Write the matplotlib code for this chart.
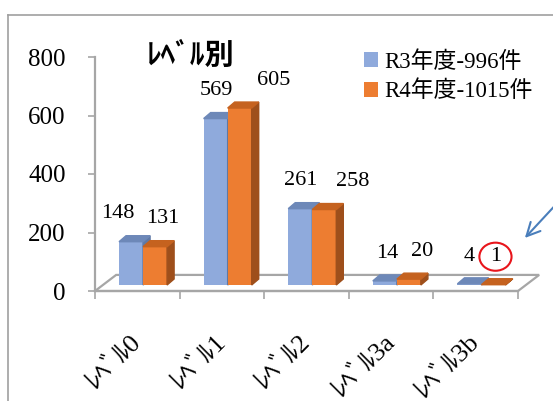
import matplotlib.pyplot as plt
from matplotlib.patches import Polygon, Ellipse
from matplotlib.lines import Line2D
from matplotlib.transforms import ScaledTranslation
import numpy as np

plt.rcParams['font.family'] = ['Liberation Serif', 'Noto Sans CJK JP']

# data
categories = ['ﾚﾍﾞﾙ0', 'ﾚﾍﾞﾙ1', 'ﾚﾍﾞﾙ2', 'ﾚﾍﾞﾙ3a', 'ﾚﾍﾞﾙ3b']
r3 = [148, 569, 261, 14, 4]
r4 = [131, 605, 258, 20, 1]
series_names = ['R3年度-996件', 'R4年度-1015件']
yticks = [0, 200, 400, 600, 800]
title = 'ﾚﾍﾞﾙ別'

W, H = 553, 401
fig = plt.figure(figsize=(W / 100, H / 100), dpi=100)
ax = fig.add_axes([95 / W, (H - 291) / H, 423 / W, 234 / H])
ax.set_xlim(0, 5)
ax.set_ylim(0, 800)
ax.patch.set_alpha(0)

grey = '#A6A6A6'
# pseudo 3d settings (data units)
base = 20.5          # bars sit a bit back on the floor
bw = 0.284           # bar width
dx, dy = 0.083, 20.5  # bar depth
fdx, fdy = 0.25, 55  # floor depth

# floor outline
floor = Polygon([(0, 0), (5, 0), (5 + fdx, fdy), (fdx, fdy)], closed=True,
                fill=False, edgecolor=grey, lw=1.6, clip_on=False, zorder=1)
ax.add_patch(floor)

colors = [('#8FAADC', '#6D88B8', '#5F79A6'), ('#ED7D31', '#C5621F', '#9E4F1B')]
nudges = [[-13, 1, 0, 2, 0], [8, 34, 28, 13, 2]]  # label x shifts (px)
handles = []
x = np.arange(len(categories))
for s, vals in enumerate([r3, r4]):
    front, top, side = colors[s]
    left = x + bw + s * bw
    bars = ax.bar(left, vals, width=bw, bottom=base, align='edge', color=front,
                  zorder=3 + s, clip_on=False, label=series_names[s])
    handles.append(bars)
    for xl, v, nd in zip(left, vals, nudges[s]):
        t = base + v
        ax.add_patch(Polygon([(xl + bw, base), (xl + bw + dx, base + dy),
                              (xl + bw + dx, t + dy), (xl + bw, t)],
                             color=side, zorder=3 + s, clip_on=False))
        ax.add_patch(Polygon([(xl, t), (xl + bw, t), (xl + bw + dx, t + dy),
                              (xl + dx, t + dy)],
                             color=top, zorder=3 + s, clip_on=False))
        ax.annotate(str(v), xy=(xl + bw / 2, t), xytext=(nd * 0.72, 20),
                    textcoords='offset points', ha='center', va='center',
                    fontsize=16, zorder=10)

# red circle round the smallest value
xc = x[4] + 2 * bw + bw / 2 + 2 / 84.6
yc = base + r4[4] + 28 / 0.2925
ax.add_patch(Ellipse((xc, yc), 0.38, 96, fill=False, edgecolor='#E8151B',
                     lw=1.5, clip_on=False, zorder=11))

# axes styling
for sp in ['top', 'right']:
    ax.spines[sp].set_visible(False)
for sp in ['left', 'bottom']:
    ax.spines[sp].set_color(grey)
    ax.spines[sp].set_linewidth(1.6)
ax.set_yticks(yticks)
ax.tick_params(axis='y', length=5, width=1.2, color=grey, labelsize=18, pad=16)
ax.set_xticks(range(6))
ax.set_xticklabels([])
ax.tick_params(axis='x', which='major', length=6, width=1.2, color=grey)
ax.set_xticks(x + 0.5, minor=True)
ax.set_xticklabels(categories, minor=True, rotation=45, ha='right',
                   rotation_mode='anchor', fontsize=19)
ax.tick_params(axis='x', which='minor', length=0, pad=22)
shift = ScaledTranslation(-8 / 100, -8 / 100, fig.dpi_scale_trans)
for lab in ax.get_xticklabels(minor=True):
    lab.set_transform(lab.get_transform() + shift)

# title
fig.text(147 / W, 1 - 55 / H, title, fontsize=21, fontweight='bold',
         family=['Noto Sans CJK JP'], va='center', ha='left')

# legend
fig.legend(handles, series_names, loc='upper left',
           bbox_to_anchor=(364 / W, 1 - 51 / H), frameon=False, fontsize=16.5,
           handlelength=0.6, handleheight=0.6, handletextpad=0.3,
           labelspacing=0.35, borderaxespad=0, borderpad=0)

# frame
fig.add_artist(Line2D([8 / W, 1], [1 - 15 / H, 1 - 15 / H], color='#A0A0A0', lw=1.2))
fig.add_artist(Line2D([8 / W, 8 / W], [0, 1 - 15 / H], color='#A0A0A0', lw=1.2))

# arrow
ax.annotate('', xy=(523 / W, 1 - 240 / H), xycoords='figure fraction',
            xytext=(562 / W, 1 - 198 / H), textcoords='figure fraction',
            arrowprops=dict(arrowstyle='->', color='#4A7EBB', lw=1.5,
                            mutation_scale=24), annotation_clip=False)

fig.savefig('out.png', dpi=100)
